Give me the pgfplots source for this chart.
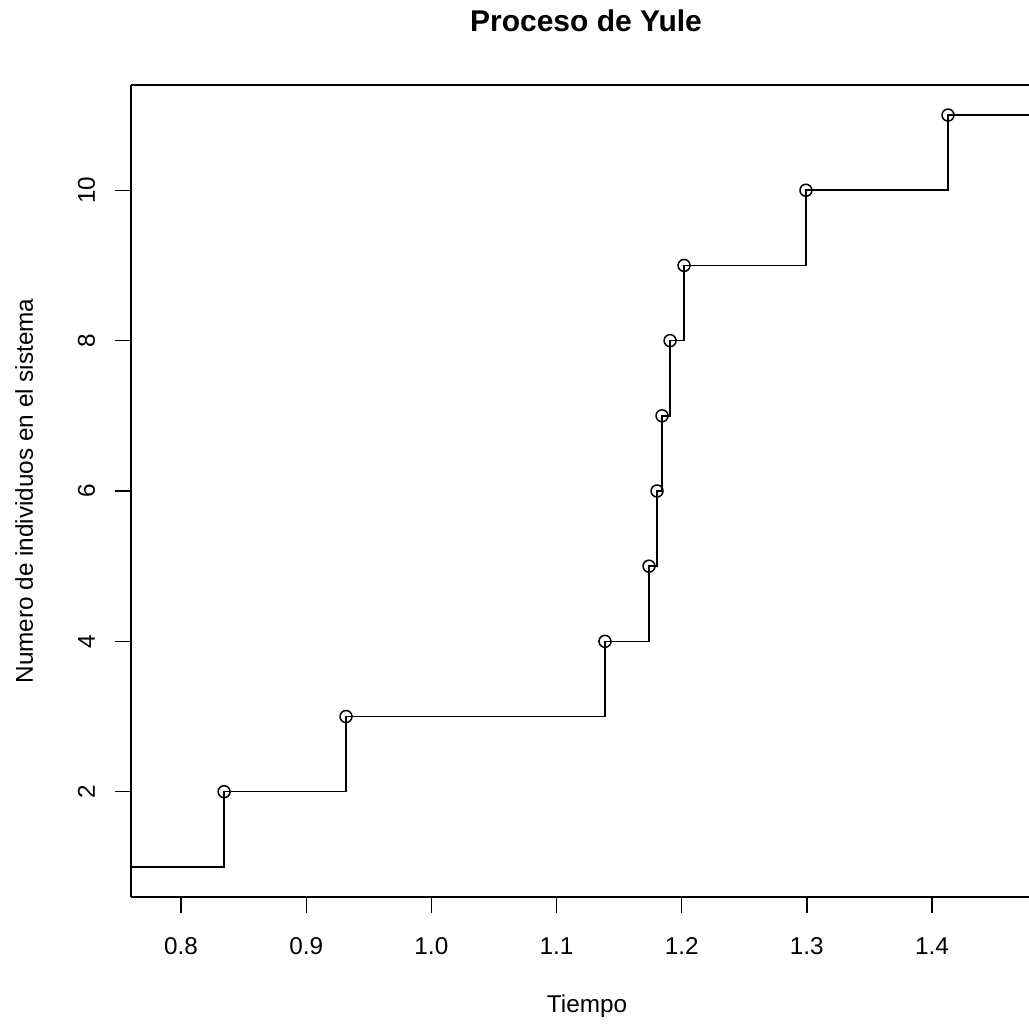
\documentclass[border=0pt]{standalone}
\usepackage{fontspec}
\setmainfont{Liberation Sans}
\usepackage{pgfplots}
\pgfplotsset{compat=1.18}

\begin{document}
\begin{tikzpicture}
\begin{axis}[
  at={(0,0)}, anchor=south west,
  scale only axis,
  width=449pt, height=406pt,
  xmin=0.76, xmax=1.4775,
  ymin=0.6, ymax=11.4,
  axis x line*=bottom, axis y line*=left,
  axis line style={line width=0.7pt, black},
  tick align=outside,
  major tick length=8pt,
  tick style={line width=0.7pt, black},
  xtick={0.8,0.9,1.0,1.1,1.2,1.3,1.4},
  ytick={2,4,6,8,10},
  /pgf/number format/assume math mode=true,
  xticklabel style={/pgf/number format/fixed, /pgf/number format/fixed zerofill,
    /pgf/number format/precision=1, anchor=base, yshift=-21pt},
  yticklabel style={rotate=90, anchor=base},
  yticklabel shift=10pt,
  ticklabel style={font=\fontsize{12.15}{14}\selectfont},
  title={\textbf{Proceso de Yule}},
  every axis title/.style={at={([yshift=26.5pt]axis description cs:0.5067,1)}, anchor=base,
    font=\fontsize{15}{18}\selectfont},
  xlabel={Tiempo},
  every axis x label/.style={at={([yshift=-58pt]axis description cs:0.5078,0)}, anchor=base,
    font=\fontsize{12.15}{14}\selectfont},
  ylabel={Numero de individuos en el sistema},
  every axis y label/.style={at={([xshift=-49pt]axis description cs:0,0.5)}, rotate=90, anchor=base,
    font=\fontsize{12.15}{14}\selectfont},
  after end axis/.code={\draw[line width=0.7pt] (rel axis cs:0,1) -- (rel axis cs:1,1);},
]
% population size as a step function of time
\addplot[const plot mark left, black, line width=0.75pt, mark=none] coordinates {
  (0.76,1) (0.8344,2) (0.9318,3) (1.1387,4) (1.1739,5) (1.1803,6)
  (1.1843,7) (1.1907,8) (1.2019,9) (1.2993,10) (1.4128,11) (1.4775,11)
};
% birth events
\addplot[only marks, mark=o, mark size=3pt, black, mark options={line width=0.75pt}] coordinates {
  (0.8344,2) (0.9318,3) (1.1387,4) (1.1739,5) (1.1803,6)
  (1.1843,7) (1.1907,8) (1.2019,9) (1.2993,10) (1.4128,11)
};
\end{axis}
\pgfresetboundingbox
\path[use as bounding box] (-65.5pt,-64.5pt) rectangle (449pt,448.5pt);
\end{tikzpicture}
\end{document}
